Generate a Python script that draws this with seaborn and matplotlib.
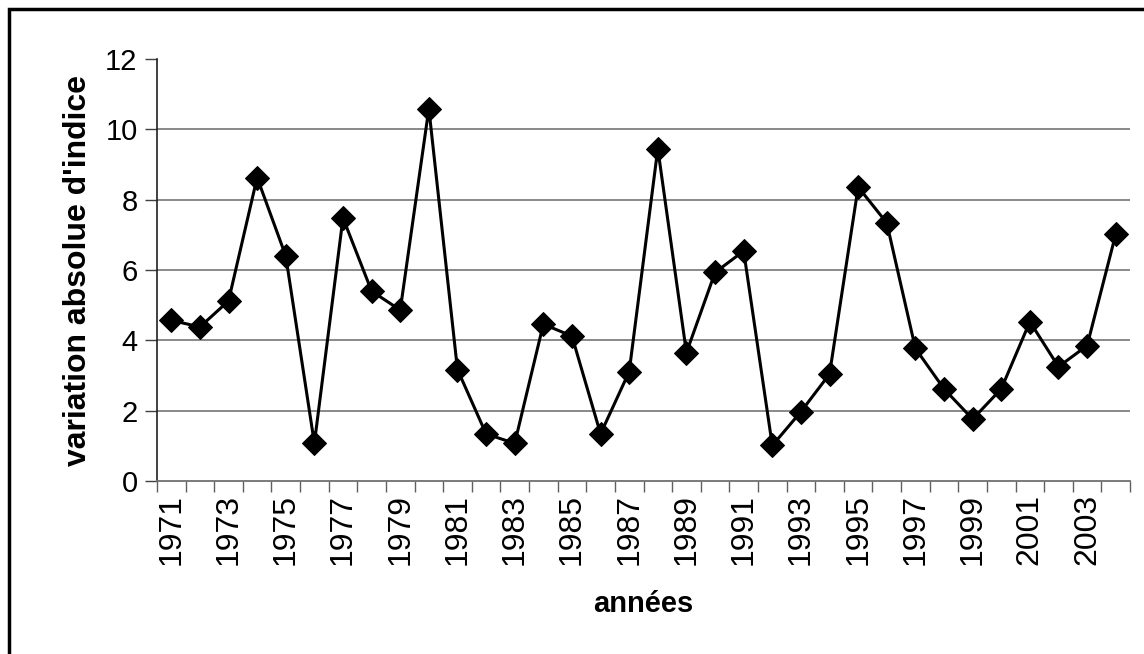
import numpy as np
import pandas as pd
import seaborn as sns
import matplotlib.pyplot as plt
from matplotlib.patches import Rectangle

years = list(range(1971, 2005))
variation = [4.57, 4.38, 5.12, 8.63, 6.40, 1.07, 7.48, 5.40, 4.86, 10.59,
             3.17, 1.34, 1.07, 4.46, 4.12, 1.34, 3.11, 9.45, 3.65, 5.93,
             6.54, 1.01, 1.97, 3.04, 8.36, 7.34, 3.77, 2.62, 1.76, 2.62,
             4.53, 3.25, 3.85, 7.02]
year_labels = [str(y) for y in years[::2]]

df = pd.DataFrame({"annee": years, "variation": variation})

sns.set_style("white")
plt.rcParams["font.family"] = ["Liberation Sans", "DejaVu Sans"]
plt.rcParams["text.color"] = "black"
plt.rcParams["axes.labelcolor"] = "black"

fig = plt.figure(figsize=(11.44, 6.54), dpi=100)
ax = fig.add_axes([0.1372, 0.2645, 0.8506, 0.6453])

# grille horizontale
for v in [2, 4, 6, 8, 10]:
    ax.axhline(v, color="#808080", lw=1.3, zorder=0)

sns.lineplot(data=df, x="annee", y="variation", ax=ax, color="black", lw=2.2,
             marker="D", markersize=12, markeredgecolor="black", zorder=3)

ax.set_xlim(years[0] - 0.5, years[-1] + 0.5)
ax.set_ylim(0, 12)
ax.set_yticks(range(0, 13, 2))
ax.tick_params(axis="y", labelsize=21, length=9, width=1, color="#404040",
               labelcolor="black", direction="out", left=True, pad=5)

# ticks entre les categories, etiquettes au centre
ax.set_xticks(np.arange(years[0] - 0.5, years[-1] + 1, 1))
ax.set_xticklabels([])
ax.set_xticks(years[::2], minor=True)
ax.set_xticklabels(year_labels, minor=True, rotation=90)
ax.tick_params(axis="x", which="major", length=8, width=1, color="#606060",
               direction="out", bottom=True)
ax.tick_params(axis="x", which="minor", length=0, labelsize=23, pad=9,
               labelcolor="black")

for s in ["top", "right"]:
    ax.spines[s].set_visible(False)
ax.spines["left"].set_color("#202020")
ax.spines["left"].set_linewidth(1.2)
ax.spines["bottom"].set_color("#707070")
ax.spines["bottom"].set_linewidth(1.3)

ax.set_xlabel("années", fontsize=21, fontweight="bold", labelpad=18)
ax.set_ylabel("variation absolue d'indice", fontsize=23, fontweight="bold",
              labelpad=9)

# cadre du graphique
fig.patches.append(Rectangle((0.0083, -0.02), 1.1, 1.007, transform=fig.transFigure,
                             fill=False, edgecolor="black", lw=2.5))

fig.savefig("out.png", dpi=100)
